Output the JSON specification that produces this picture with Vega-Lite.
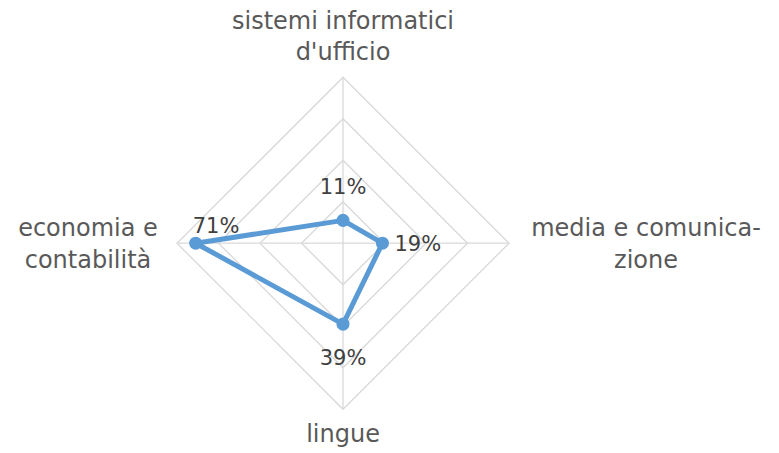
{
  "$schema": "https://vega.github.io/schema/vega-lite/v6.json",
  "width": 779,
  "height": 453,
  "autosize": "none",
  "padding": 0,
  "background": "white",
  "config": {"view": {"stroke": null}, "font": "DejaVu Sans"},
  "datasets": {
    "series": [
      {"cat": "sistemi informatici d'ufficio", "k": 0, "value": 11},
      {"cat": "media e comunicazione", "k": 1, "value": 19},
      {"cat": "lingue", "k": 2, "value": 39},
      {"cat": "economia e contabilità", "k": 3, "value": 71}
    ],
    "grid": [
      {"ring": 20, "k": 0}, {"ring": 20, "k": 1}, {"ring": 20, "k": 2}, {"ring": 20, "k": 3},
      {"ring": 40, "k": 0}, {"ring": 40, "k": 1}, {"ring": 40, "k": 2}, {"ring": 40, "k": 3},
      {"ring": 60, "k": 0}, {"ring": 60, "k": 1}, {"ring": 60, "k": 2}, {"ring": 60, "k": 3},
      {"ring": 80, "k": 0}, {"ring": 80, "k": 1}, {"ring": 80, "k": 2}, {"ring": 80, "k": 3}
    ],
    "axes": [
      {"k": 0, "label": ["sistemi informatici", "d'ufficio"]},
      {"k": 1, "label": ["media e comunica-", "zione"]},
      {"k": 2, "label": ["lingue"]},
      {"k": 3, "label": ["economia e", "contabilità"]}
    ]
  },
  "layer": [
    {
      "data": {"name": "grid"},
      "transform": [
        {"calculate": "datum.ring * sin(datum.k * PI / 2)", "as": "x"},
        {"calculate": "datum.ring * cos(datum.k * PI / 2)", "as": "y"}
      ],
      "mark": {"type": "line", "interpolate": "linear-closed", "color": "#D9D9D9", "strokeWidth": 1.3},
      "encoding": {
        "x": {"field": "x", "type": "quantitative", "scale": {"domain": [-165.3, 210.1], "nice": false, "zero": false}, "axis": null},
        "y": {"field": "y", "type": "quantitative", "scale": {"domain": [-101.1, 117.2], "nice": false, "zero": false}, "axis": null},
        "detail": {"field": "ring"},
        "order": {"field": "k"}
      }
    },
    {
      "data": {"name": "axes"},
      "transform": [
        {"calculate": "80 * sin(datum.k * PI / 2)", "as": "x"},
        {"calculate": "80 * cos(datum.k * PI / 2)", "as": "y"},
        {"calculate": "0", "as": "x0"},
        {"calculate": "0", "as": "y0"}
      ],
      "mark": {"type": "rule", "color": "#D9D9D9", "strokeWidth": 1.3},
      "encoding": {
        "x": {"field": "x0", "type": "quantitative"},
        "y": {"field": "y0", "type": "quantitative"},
        "x2": {"field": "x"},
        "y2": {"field": "y"}
      }
    },
    {
      "data": {"name": "series"},
      "transform": [
        {"calculate": "datum.value * sin(datum.k * PI / 2)", "as": "x"},
        {"calculate": "datum.value * cos(datum.k * PI / 2)", "as": "y"},
        {"calculate": "datum.value + '%'", "as": "lab"}
      ],
      "layer": [
        {
          "mark": {"type": "line", "interpolate": "linear-closed", "color": "#5B9BD5", "strokeWidth": 5, "strokeJoin": "round"},
          "encoding": {
            "x": {"field": "x", "type": "quantitative"},
            "y": {"field": "y", "type": "quantitative"},
            "order": {"field": "k"}
          }
        },
        {
          "mark": {"type": "circle", "color": "#5B9BD5", "opacity": 1, "size": 170},
          "encoding": {
            "x": {"field": "x", "type": "quantitative"},
            "y": {"field": "y", "type": "quantitative"}
          }
        },
        {
          "transform": [{"filter": "datum.k == 0"}],
          "mark": {"type": "text", "fontSize": 21, "color": "#404040", "align": "center", "baseline": "middle", "dy": -32},
          "encoding": {
            "x": {"field": "x", "type": "quantitative"},
            "y": {"field": "y", "type": "quantitative"},
            "text": {"field": "lab"}
          }
        },
        {
          "transform": [{"filter": "datum.k == 1"}],
          "mark": {"type": "text", "fontSize": 21, "color": "#404040", "align": "left", "baseline": "middle", "dx": 12, "dy": 2},
          "encoding": {
            "x": {"field": "x", "type": "quantitative"},
            "y": {"field": "y", "type": "quantitative"},
            "text": {"field": "lab"}
          }
        },
        {
          "transform": [{"filter": "datum.k == 2"}],
          "mark": {"type": "text", "fontSize": 21, "color": "#404040", "align": "center", "baseline": "middle", "dy": 35},
          "encoding": {
            "x": {"field": "x", "type": "quantitative"},
            "y": {"field": "y", "type": "quantitative"},
            "text": {"field": "lab"}
          }
        },
        {
          "transform": [{"filter": "datum.k == 3"}],
          "mark": {"type": "text", "fontSize": 21, "color": "#404040", "align": "left", "baseline": "middle", "dx": -3, "dy": -16},
          "encoding": {
            "x": {"field": "x", "type": "quantitative"},
            "y": {"field": "y", "type": "quantitative"},
            "text": {"field": "lab"}
          }
        }
      ]
    },
    {
      "data": {"name": "axes"},
      "transform": [
        {"calculate": "80 * sin(datum.k * PI / 2)", "as": "x"},
        {"calculate": "80 * cos(datum.k * PI / 2)", "as": "y"}
      ],
      "layer": [
        {
          "transform": [{"filter": "datum.k == 0"}],
          "mark": {"type": "text", "fontSize": 24, "lineHeight": 31, "color": "#595959", "align": "center", "baseline": "middle", "dy": -55},
          "encoding": {"x": {"field": "x", "type": "quantitative"}, "y": {"field": "y", "type": "quantitative"}, "text": {"field": "label"}}
        },
        {
          "transform": [{"filter": "datum.k == 1"}],
          "mark": {"type": "text", "fontSize": 24, "lineHeight": 32, "color": "#595959", "align": "center", "baseline": "middle", "dx": 137, "dy": -14},
          "encoding": {"x": {"field": "x", "type": "quantitative"}, "y": {"field": "y", "type": "quantitative"}, "text": {"field": "label"}}
        },
        {
          "transform": [{"filter": "datum.k == 2"}],
          "mark": {"type": "text", "fontSize": 24, "lineHeight": 31, "color": "#595959", "align": "center", "baseline": "middle", "dy": 26},
          "encoding": {"x": {"field": "x", "type": "quantitative"}, "y": {"field": "y", "type": "quantitative"}, "text": {"field": "label"}}
        },
        {
          "transform": [{"filter": "datum.k == 3"}],
          "mark": {"type": "text", "fontSize": 24, "lineHeight": 32, "color": "#595959", "align": "center", "baseline": "middle", "dx": -89, "dy": -14},
          "encoding": {"x": {"field": "x", "type": "quantitative"}, "y": {"field": "y", "type": "quantitative"}, "text": {"field": "label"}}
        }
      ]
    }
  ]
}
